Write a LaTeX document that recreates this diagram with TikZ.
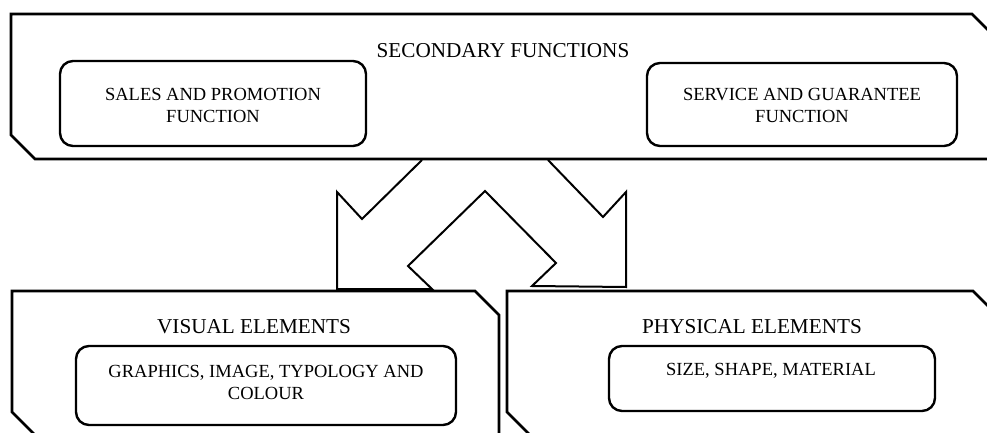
\documentclass[tikz,border=0pt]{standalone}
\usepackage{fontspec}
\setmainfont{Liberation Serif}
\begin{document}
\begin{tikzpicture}[x=1pt,y=-1pt,
  frame/.style={draw, line width=2.6pt, line join=miter},
  twinarrow/.style={draw, line width=2pt, line join=miter},
  panel/.style={draw, line width=2.4pt, rounded corners=13pt, inner sep=0pt},
  caption/.style={font=\fontsize{18.5}{22}\selectfont, align=center, inner sep=0pt},
  title/.style={font=\fontsize{21.2}{25}\selectfont, inner sep=0pt}
]
\useasboundingbox (0,0) rectangle (987,433);
\clip (0,0) rectangle (987,433);

% split arrow leading from the upper frame to the two lower frames
\draw[twinarrow] (422,160) -- (362,219) -- (337,192) -- (337,289) -- (432,289)
  -- (408,266) -- (485,191) -- (556,263) -- (532,286) -- (626,287)
  -- (626,192) -- (603,217) -- (548,160);

% chamfered frames
\draw[frame] (11,14) -- (972,14) -- (996,38) -- (996,159) -- (35,159) -- (11,135) -- cycle;
\draw[frame] (12,291) -- (475,291) -- (499,315) -- (499,436) -- (36,436) -- (12,412) -- cycle;
\draw[frame] (507,291) -- (973,291) -- (997,315) -- (997,436) -- (531,436) -- (507,412) -- cycle;

% frame titles
\node[title] (secondary) at (503,51) {SECONDARY FUNCTIONS};
\node[title] (visual) at (254,327) {VISUAL ELEMENTS};
\node[title] (physical) at (752,327) {PHYSICAL ELEMENTS};

% inner panels
\node[panel, minimum width=306pt, minimum height=85pt] (sales) at (213,103.5) {};
\node[panel, minimum width=310pt, minimum height=83pt] (service) at (802,104.5) {};
\node[panel, minimum width=380pt, minimum height=79pt] (graphics) at (266,385.5) {};
\node[panel, minimum width=326pt, minimum height=65pt] (size) at (772,378.5) {};

% panel texts
\node[caption] (salestext) at (213,105) {SALES AND PROMOTION\\FUNCTION};
\node[caption] (servicetext) at (802,105) {SERVICE AND GUARANTEE\\FUNCTION};
\node[caption] (graphicstext) at (266,382) {GRAPHICS, IMAGE, TYPOLOGY AND\\COLOUR};
\node[caption] (sizetext) at (771,371) {SIZE, SHAPE, MATERIAL};
\end{tikzpicture}
\end{document}
